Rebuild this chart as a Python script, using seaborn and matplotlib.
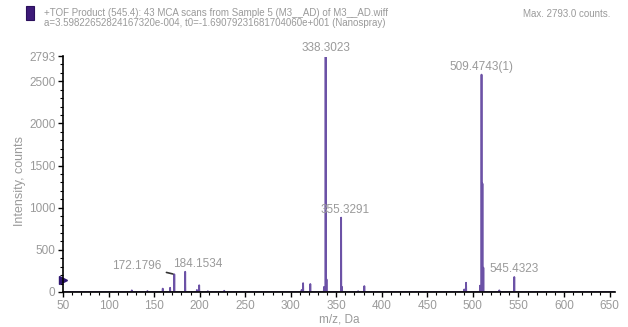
import numpy as np
import pandas as pd
import matplotlib
matplotlib.use("Agg")
import matplotlib.pyplot as plt
from matplotlib.patches import Rectangle
from matplotlib.ticker import MultipleLocator, FixedLocator
import seaborn as sns

# --- peak list (m/z, counts) ---
peak_mz = [125.5, 142.7, 159.5, 167.6, 172.18, 184.15, 197.0, 199.5, 209.0, 227.0,
           312.0, 313.6, 321.5, 336.5, 338.30, 339.3, 355.33, 356.3, 374.0, 380.8,
           490.5, 492.5, 507.8, 509.47, 510.47, 511.47, 529.0, 545.43]
peak_int = [20, 12, 40, 50, 210, 240, 25, 80, 10, 15,
            25, 105, 95, 60, 2793, 150, 882, 60, 10, 70,
            30, 110, 75, 2578, 1285, 288, 20, 178]

label_mz = [172.1796, 184.1534, 338.3023, 355.3291, 509.4743, 545.4323]
label_int = [210, 240, 2793, 882, 2578, 178]
label_txt = ["172.1796", "184.1534", "338.3023", "355.3291", "509.4743(1)", "545.4323"]
label_dx = [-9, 9, 0, 3, 0, 0]  # text offsets in points

y_ticks = [0, 500, 1000, 1500, 2000, 2500, 2793]
x_ticks = list(range(50, 651, 50))

# build a stick profile so seaborn draws the sticks as one trace
xs, ys = [48.0], [0.0]
for m, h in zip(peak_mz, peak_int):
    xs += [m - 0.2, m, m + 0.2]
    ys += [0, h, 0]
xs.append(660.0)
ys.append(0.0)
spec = pd.DataFrame({"mz": xs, "counts": ys})

sns.set_theme(style="white")
plt.rcParams["font.family"] = ["Liberation Sans", "DejaVu Sans"]
grey = "#9a9a9a"

fig = plt.figure(figsize=(6.28, 3.27), dpi=100)
ax = fig.add_axes([63 / 628, 1 - 292 / 327, 552 / 628, 235.5 / 327])

sns.lineplot(data=spec, x="mz", y="counts", ax=ax, color="#6c52a6",
             linewidth=1.3, estimator=None, sort=True)

ax.set_xlim(50, 656)
ax.set_ylim(0, 2793)

# precursor marker on the y axis
ax.plot([50], [140], marker=">", color="#2e1670", markersize=6, clip_on=False)

for m, h, t, dx in zip(label_mz, label_int, label_txt, label_dx):
    if dx < 0:
        ax.annotate(t, xy=(m, h), xytext=(dx, 2), textcoords="offset points",
                    ha="right", va="bottom", fontsize=8.5, color=grey,
                    arrowprops=dict(arrowstyle="-", color="#333333", lw=1.2,
                                    shrinkA=1, shrinkB=1))
    else:
        ax.annotate(t, xy=(m, h), xytext=(dx, 1.5), textcoords="offset points",
                    ha="center", va="bottom", fontsize=8.5, color=grey)

ax.yaxis.set_major_locator(FixedLocator(y_ticks))
ax.yaxis.set_minor_locator(MultipleLocator(100))
ax.xaxis.set_major_locator(FixedLocator(x_ticks))
ax.xaxis.set_minor_locator(MultipleLocator(10))
ax.tick_params(axis="both", which="major", direction="out", length=3.5, width=1,
               color="black", labelsize=8.5, labelcolor=grey, pad=2,
               bottom=True, left=True)
ax.tick_params(axis="both", which="minor", direction="out", length=2, width=0.8,
               color="black", bottom=True, left=True)

sns.despine(ax=ax)
for s in ["left", "bottom"]:
    ax.spines[s].set_color("black")
    ax.spines[s].set_linewidth(1.2)

ax.set_xlabel("m/z, Da", fontsize=8.5, color=grey, labelpad=1)
ax.set_ylabel("Intensity, counts", fontsize=9, color=grey)
ax.yaxis.set_label_coords(-0.067, 0.47)

# header
fig.patches.append(Rectangle((26 / 628, 1 - 19.5 / 327), 7.5 / 628, 13.5 / 327,
                             transform=fig.transFigure, facecolor="#3d1a78",
                             edgecolor="#2a0f5c", lw=0.8))
fig.text(44 / 628, 1 - 12.5 / 327,
         "+TOF Product (545.4): 43 MCA scans from Sample 5 (M3__AD) of M3__AD.wiff",
         fontsize=7, color=grey, va="center", ha="left")
fig.text(44 / 628, 1 - 22.5 / 327,
         "a=3.59822652824167320e-004, t0=-1.69079231681704060e+001 (Nanospray)",
         fontsize=7, color=grey, va="center", ha="left")
fig.text(610 / 628, 1 - 14 / 327, "Max. 2793.0 counts.",
         fontsize=7, color=grey, va="center", ha="right")

fig.savefig("out.png", dpi=100)
